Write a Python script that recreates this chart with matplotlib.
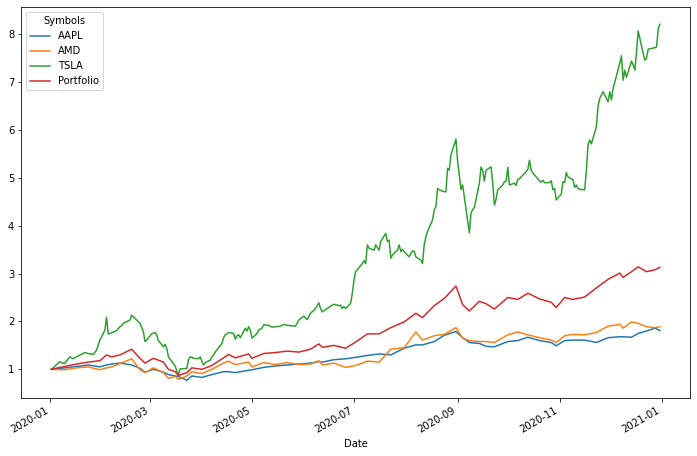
import matplotlib
matplotlib.use("Agg")
import matplotlib.pyplot as plt
import matplotlib.dates as mdates
import pandas as pd

# ---- data (normalized prices) ----
dates = ["2020-01-02", "2020-01-10", "2020-01-17", "2020-01-24", "2020-01-31", "2020-02-04",
         "2020-02-07", "2020-02-12", "2020-02-19", "2020-02-24", "2020-02-27", "2020-03-03",
         "2020-03-09", "2020-03-12", "2020-03-16", "2020-03-18", "2020-03-23", "2020-03-26",
         "2020-04-01", "2020-04-07", "2020-04-14", "2020-04-17", "2020-04-21", "2020-04-29",
         "2020-05-01", "2020-05-08", "2020-05-15", "2020-05-22", "2020-05-29", "2020-06-05",
         "2020-06-10", "2020-06-12", "2020-06-19", "2020-06-26", "2020-07-02", "2020-07-09",
         "2020-07-16", "2020-07-23", "2020-07-31", "2020-08-07", "2020-08-11", "2020-08-18",
         "2020-08-24", "2020-08-31", "2020-09-04", "2020-09-08", "2020-09-14", "2020-09-18",
         "2020-09-23", "2020-10-01", "2020-10-07", "2020-10-13", "2020-10-20", "2020-10-27",
         "2020-10-30", "2020-11-04", "2020-11-09", "2020-11-16", "2020-11-23", "2020-11-30",
         "2020-12-07", "2020-12-09", "2020-12-14", "2020-12-18", "2020-12-23", "2020-12-28",
         "2020-12-31"]

aapl = [1.00, 1.03, 1.06, 1.09, 1.05, 1.09, 1.11, 1.13, 1.09, 1.02, 0.94, 1.00,
        0.94, 0.89, 0.86, 0.85, 0.77, 0.86, 0.83, 0.89, 0.95, 0.95, 0.93, 0.98,
        0.99, 1.04, 1.07, 1.09, 1.11, 1.13, 1.16, 1.15, 1.20, 1.22, 1.25, 1.29,
        1.32, 1.30, 1.44, 1.51, 1.51, 1.58, 1.71, 1.79, 1.66, 1.56, 1.54, 1.48,
        1.47, 1.58, 1.60, 1.67, 1.60, 1.56, 1.49, 1.60, 1.61, 1.61, 1.56, 1.66,
        1.68, 1.68, 1.67, 1.75, 1.80, 1.86, 1.81]

amd = [1.00, 0.99, 1.03, 1.05, 0.99, 1.03, 1.05, 1.12, 1.22, 0.99, 0.93, 1.03,
       0.93, 0.81, 0.85, 0.79, 0.86, 0.95, 0.91, 1.00, 1.13, 1.17, 1.10, 1.15,
       1.05, 1.14, 1.10, 1.14, 1.10, 1.11, 1.18, 1.09, 1.13, 1.04, 1.08, 1.17,
       1.15, 1.42, 1.45, 1.78, 1.61, 1.70, 1.73, 1.87, 1.65, 1.60, 1.58, 1.58,
       1.56, 1.72, 1.78, 1.72, 1.66, 1.61, 1.56, 1.70, 1.73, 1.72, 1.77, 1.90,
       1.94, 1.86, 1.99, 1.96, 1.89, 1.87, 1.89]

portfolio = [1.00, 1.06, 1.11, 1.15, 1.18, 1.30, 1.26, 1.30, 1.42, 1.23, 1.13, 1.23,
             1.15, 1.00, 0.95, 0.87, 0.93, 1.03, 1.00, 1.08, 1.24, 1.31, 1.24, 1.32,
             1.23, 1.33, 1.35, 1.38, 1.36, 1.42, 1.53, 1.46, 1.50, 1.44, 1.57, 1.74,
             1.74, 1.87, 1.99, 2.17, 2.08, 2.33, 2.48, 2.74, 2.35, 2.22, 2.42, 2.37,
             2.26, 2.50, 2.46, 2.59, 2.47, 2.40, 2.29, 2.50, 2.46, 2.51, 2.70, 2.88,
             3.01, 2.92, 3.04, 3.14, 3.04, 3.08, 3.13]

tsla_dates = ["2020-01-02", "2020-01-03", "2020-01-07", "2020-01-08", "2020-01-10", "2020-01-13",
              "2020-01-15", "2020-01-17", "2020-01-22", "2020-01-24", "2020-01-27", "2020-01-29",
              "2020-01-31", "2020-02-03", "2020-02-04", "2020-02-05", "2020-02-07", "2020-02-10",
              "2020-02-12", "2020-02-13", "2020-02-14", "2020-02-18", "2020-02-19", "2020-02-20",
              "2020-02-24", "2020-02-26", "2020-02-27", "2020-02-28", "2020-03-02", "2020-03-04",
              "2020-03-05", "2020-03-06", "2020-03-09", "2020-03-10", "2020-03-11", "2020-03-12",
              "2020-03-16", "2020-03-17", "2020-03-18", "2020-03-19", "2020-03-20", "2020-03-23",
              "2020-03-24", "2020-03-25", "2020-03-26", "2020-03-27", "2020-03-30", "2020-03-31",
              "2020-04-01", "2020-04-02", "2020-04-03", "2020-04-06", "2020-04-07", "2020-04-08",
              "2020-04-09", "2020-04-13", "2020-04-14", "2020-04-15", "2020-04-16", "2020-04-17",
              "2020-04-20", "2020-04-21", "2020-04-22", "2020-04-23", "2020-04-24", "2020-04-27",
              "2020-04-28", "2020-04-29", "2020-04-30", "2020-05-01", "2020-05-04", "2020-05-05",
              "2020-05-07", "2020-05-08", "2020-05-11", "2020-05-13", "2020-05-18", "2020-05-20",
              "2020-05-22", "2020-05-27", "2020-05-29", "2020-06-01", "2020-06-02", "2020-06-03",
              "2020-06-05", "2020-06-08", "2020-06-10", "2020-06-11", "2020-06-12", "2020-06-15",
              "2020-06-17", "2020-06-19", "2020-06-22", "2020-06-23", "2020-06-24", "2020-06-25",
              "2020-06-26", "2020-06-29", "2020-06-30", "2020-07-01", "2020-07-02", "2020-07-06",
              "2020-07-07", "2020-07-08", "2020-07-09", "2020-07-10", "2020-07-13", "2020-07-14",
              "2020-07-16", "2020-07-17", "2020-07-20", "2020-07-21", "2020-07-22", "2020-07-23",
              "2020-07-24", "2020-07-27", "2020-07-28", "2020-07-29", "2020-07-30", "2020-07-31",
              "2020-08-03", "2020-08-04", "2020-08-05", "2020-08-06", "2020-08-07", "2020-08-10",
              "2020-08-11", "2020-08-12", "2020-08-13", "2020-08-14", "2020-08-17", "2020-08-18",
              "2020-08-19", "2020-08-20", "2020-08-21", "2020-08-24", "2020-08-25", "2020-08-26",
              "2020-08-27", "2020-08-28", "2020-08-31", "2020-09-01", "2020-09-02", "2020-09-03",
              "2020-09-04", "2020-09-08", "2020-09-09", "2020-09-10", "2020-09-11", "2020-09-14",
              "2020-09-15", "2020-09-16", "2020-09-17", "2020-09-18", "2020-09-21", "2020-09-22",
              "2020-09-23", "2020-09-24", "2020-09-25", "2020-09-28", "2020-09-29", "2020-09-30",
              "2020-10-01", "2020-10-02", "2020-10-05", "2020-10-06", "2020-10-07", "2020-10-08",
              "2020-10-09", "2020-10-12", "2020-10-13", "2020-10-14", "2020-10-15", "2020-10-16",
              "2020-10-19", "2020-10-20", "2020-10-21", "2020-10-22", "2020-10-23", "2020-10-26",
              "2020-10-27", "2020-10-28", "2020-10-29", "2020-10-30", "2020-11-02", "2020-11-03",
              "2020-11-04", "2020-11-05", "2020-11-06", "2020-11-09", "2020-11-10", "2020-11-11",
              "2020-11-12", "2020-11-13", "2020-11-16", "2020-11-17", "2020-11-18", "2020-11-19",
              "2020-11-20", "2020-11-23", "2020-11-24", "2020-11-25", "2020-11-27", "2020-11-30",
              "2020-12-01", "2020-12-02", "2020-12-03", "2020-12-04", "2020-12-07", "2020-12-08",
              "2020-12-09", "2020-12-10", "2020-12-11", "2020-12-14", "2020-12-15", "2020-12-16",
              "2020-12-17", "2020-12-18", "2020-12-21", "2020-12-22", "2020-12-23", "2020-12-24",
              "2020-12-28", "2020-12-29", "2020-12-30", "2020-12-31"]

tsla = [1.00, 1.03, 1.16, 1.14, 1.12, 1.26,
        1.22, 1.26, 1.35, 1.33, 1.31, 1.40,
        1.61, 1.82, 2.09, 1.74, 1.76, 1.81,
        1.89, 1.91, 1.96, 2.03, 2.13, 2.10,
        1.96, 1.79, 1.58, 1.61, 1.74, 1.77,
        1.72, 1.60, 1.47, 1.52, 1.44, 1.26,
        1.07, 0.97, 0.87, 1.01, 1.01, 1.02,
        1.20, 1.26, 1.25, 1.23, 1.22, 1.26,
        1.17, 1.09, 1.14, 1.19, 1.26, 1.30,
        1.36, 1.54, 1.66, 1.72, 1.74, 1.77,
        1.75, 1.63, 1.70, 1.72, 1.66, 1.86,
        1.80, 1.89, 1.82, 1.65, 1.75, 1.82,
        1.86, 1.93, 1.92, 1.88, 1.90, 1.94,
        1.92, 1.90, 2.03, 2.11, 2.07, 2.04,
        2.17, 2.27, 2.39, 2.27, 2.20, 2.27,
        2.32, 2.36, 2.33, 2.34, 2.27, 2.31,
        2.27, 2.38, 2.59, 2.87, 3.04, 3.21,
        3.27, 3.21, 3.60, 3.53, 3.49, 3.60,
        3.49, 3.67, 3.84, 3.67, 3.70, 3.32,
        3.39, 3.49, 3.60, 3.46, 3.51, 3.46,
        3.35, 3.42, 3.47, 3.47, 3.35, 3.28,
        3.21, 3.60, 3.77, 3.88, 4.12, 4.33,
        4.40, 4.78, 4.75, 4.71, 4.71, 5.20,
        5.16, 5.48, 5.81, 5.34, 5.05, 4.76,
        4.85, 3.85, 4.26, 4.34, 4.38, 4.89,
        5.23, 5.15, 4.93, 5.16, 5.23, 4.90,
        4.43, 4.55, 4.75, 4.85, 4.92, 4.93,
        5.22, 4.85, 4.89, 4.84, 4.97, 4.98,
        5.02, 5.13, 5.18, 5.37, 5.16, 5.10,
        4.98, 4.93, 4.91, 4.95, 4.90, 4.90,
        4.94, 4.75, 4.78, 4.54, 4.66, 4.92,
        4.90, 5.11, 5.02, 4.96, 4.80, 4.85,
        4.78, 4.76, 4.75, 5.15, 5.69, 5.79,
        5.71, 6.07, 6.50, 6.66, 6.80, 6.59,
        6.80, 6.63, 6.87, 7.00, 7.40, 7.55,
        7.04, 7.25, 7.10, 7.44, 7.36, 7.25,
        7.62, 8.07, 7.60, 7.46, 7.50, 7.69,
        7.72, 7.74, 8.12, 8.21]

labels = ["AAPL", "AMD", "TSLA", "Portfolio"]
colors = ["#1f77b4", "#ff7f0e", "#2ca02c", "#d62728"]

plt.rcParams['font.family'] = ['DejaVu Sans']
plt.rcParams['font.size'] = 10

fig = plt.figure(figsize=(697 / 72, 456 / 72), dpi=72)
ax = fig.add_axes([21.3 / 697, 1 - 398.3 / 456, (690 - 21.3) / 697, (398.3 - 7.3) / 456])

d = pd.to_datetime(dates)
td = pd.to_datetime(tsla_dates)
ax.plot(d, aapl, color=colors[0], lw=1.5, label=labels[0])
ax.plot(d, amd, color=colors[1], lw=1.5, label=labels[1])
ax.plot(td, tsla, color=colors[2], lw=1.5, label=labels[2])
ax.plot(d, portfolio, color=colors[3], lw=1.5, label=labels[3])

ax.set_xlim(pd.Timestamp("2019-12-15"), pd.Timestamp("2021-01-18"))
ax.set_ylim(0.394, 8.564)
ax.set_yticks(range(1, 9))
ax.xaxis.set_major_locator(mdates.MonthLocator(bymonth=[1, 3, 5, 7, 9, 11]))
ax.xaxis.set_major_formatter(mdates.DateFormatter('%Y-%m'))
for lab in ax.get_xticklabels():
    lab.set_rotation(30)
    lab.set_ha('right')
ax.set_xlabel("Date")
ax.legend(title="Symbols", loc="upper left")

fig.savefig("out.png", dpi=72)
